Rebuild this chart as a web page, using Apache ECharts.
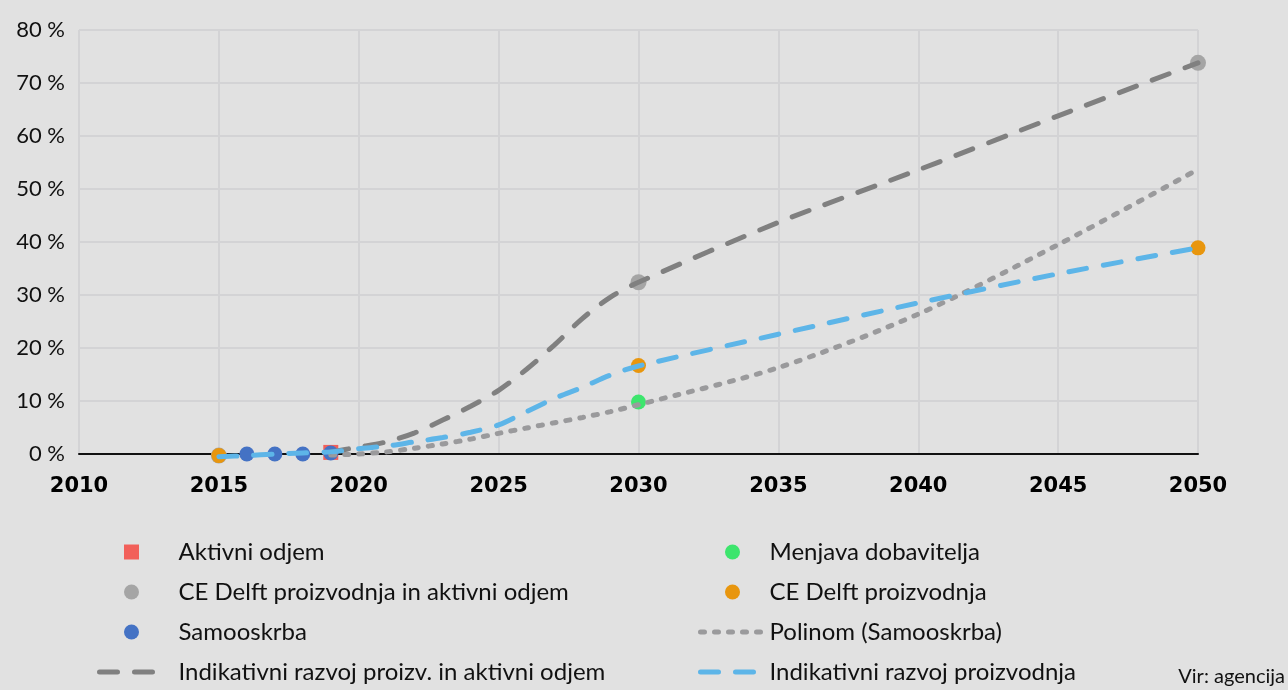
<!DOCTYPE html>
<html>
<head>
<meta charset="utf-8">
<script src="https://cdn.jsdelivr.net/npm/echarts@6/dist/echarts.min.js"></script>
<style>
  html, body { margin: 0; padding: 0; background: #e1e1e1; }
  #main { width: 1288px; height: 690px; }
</style>
</head>
<body>
<div id="main"></div>
<script>
// podatki odčitani z grafa (v %)
var aktivniOdjemLeta = [2019];
var aktivniOdjem = [0.3];

var menjavaLeta = [2030];
var menjava = [9.8];

var ceDelftOdjemLeta = [2015, 2030, 2050];
var ceDelftOdjem = [-0.3, 32.4, 73.8];

var ceDelftLeta = [2015, 2030, 2050];
var ceDelft = [-0.3, 16.7, 38.9];

var samooskrbaLeta = [2016, 2017, 2018, 2019];
var samooskrba = [0, 0, 0, 0.2];

var polinomLeta = [2019, 2020, 2021, 2022, 2023, 2024, 2025, 2026, 2027, 2028, 2029, 2030, 2035, 2040, 2045, 2050];
var polinom = [-0.2, 0, 0.4, 1.1, 1.9, 2.8, 3.9, 4.9, 5.9, 6.9, 8.0, 9.3, 16.3, 26.4, 39.5, 53.7];

var indikOdjemLeta = [2019, 2020, 2021, 2022, 2023, 2024, 2025, 2026, 2027, 2028, 2029, 2030, 2035, 2040, 2045, 2050];
var indikOdjem = [0.4, 1.3, 2.3, 4.0, 6.4, 9.0, 12.0, 16.0, 20.6, 25.6, 29.6, 32.4, 43.7, 53.6, 63.8, 73.8];

var indikProizvLeta = [2015, 2016, 2017, 2018, 2019, 2020, 2021, 2022, 2023, 2024, 2025, 2026, 2027, 2028, 2029, 2030, 2035, 2040, 2045, 2050];
var indikProizv = [-0.5, -0.3, 0, 0.2, 0.4, 1.0, 1.5, 2.3, 3.1, 4.1, 5.5, 8.0, 10.5, 12.6, 14.9, 16.6, 22.6, 28.5, 34.0, 38.9];

var zip = function(xs, ys) {
    return xs.map(function(x, i) { return [x, ys[i]]; });
};

var font = 'Lato';

var tocke = function(name, leta, vals, color, symbol, size) {
    return {
        name: name,
        type: 'scatter',
        symbol: symbol || 'circle',
        symbolSize: size || 15,
        clip: false,
        itemStyle: { color: color, opacity: 1 },
        data: zip(leta, vals)
    };
};

var crta = function(name, leta, vals, color, dash) {
    return {
        name: name,
        type: 'line',
        smooth: 0.3,
        symbol: 'none',
        clip: false,
        z: 3,
        itemStyle: { color: color },
        lineStyle: { color: color, width: 5, type: dash, cap: 'round' },
        data: zip(leta, vals)
    };
};

// legenda za črte brez simbola v sredini
var brezSimbola = function(name) {
    return { name: name, itemStyle: { opacity: 0 } };
};

var legendText = { fontFamily: font, fontSize: 24, color: '#111' };
var legendLine = { width: 5, cap: 'round' };

var option = {
    backgroundColor: '#e1e1e1',
    animation: false,
    grid: { left: 79, right: 90, top: 30, bottom: 236 },
    xAxis: {
        type: 'value',
        min: 2010,
        max: 2050,
        interval: 5,
        axisLine: { onZero: true, lineStyle: { color: '#111', width: 2 } },
        axisTick: { show: false },
        splitLine: { show: true, lineStyle: { color: '#d3d3d5', width: 2 } },
        axisLabel: {
            margin: 22,
            color: '#000',
            fontFamily: 'DejaVu Sans',
            fontWeight: 'bold',
            fontSize: 21,
            formatter: function(v) { return String(v); }
        }
    },
    yAxis: {
        type: 'value',
        min: 0,
        max: 80,
        interval: 10,
        axisLine: { show: false },
        axisTick: { show: false },
        splitLine: { lineStyle: { color: '#d3d3d5', width: 2 } },
        axisLabel: {
            margin: 14,
            color: '#111',
            fontFamily: font,
            fontSize: 22,
            formatter: '{value} %'
        }
    },
    legend: [{
        orient: 'vertical',
        left: 92,
        top: 535,
        itemWidth: 64,
        itemHeight: 15,
        itemGap: 16,
        lineStyle: legendLine,
        textStyle: Object.assign({ padding: [0, 0, 0, 10] }, legendText),
        data: [
            { name: 'Aktivni odjem', icon: 'path://M0,0H10V10H0Z' },
            'CE Delft proizvodnja in aktivni odjem',
            'Samooskrba',
            brezSimbola('Indikativni razvoj proizv. in aktivni odjem')
        ]
    }, {
        orient: 'vertical',
        left: 693,
        top: 535,
        itemWidth: 64,
        itemHeight: 15,
        itemGap: 16,
        lineStyle: legendLine,
        textStyle: legendText,
        data: [
            'Menjava dobavitelja',
            'CE Delft proizvodnja',
            brezSimbola('Polinom (Samooskrba)'),
            brezSimbola('Indikativni razvoj proizvodnja')
        ]
    }],
    graphic: [{
        type: 'text',
        right: 3,
        top: 667,
        style: { text: 'Vir: agencija', fontFamily: font, fontSize: 20, fill: '#111' }
    }],
    series: [
        tocke('CE Delft proizvodnja in aktivni odjem', ceDelftOdjemLeta, ceDelftOdjem, '#a5a5a5', 'circle', 16),
        tocke('CE Delft proizvodnja', ceDelftLeta, ceDelft, '#e8960e'),
        tocke('Menjava dobavitelja', menjavaLeta, menjava, '#3de56d'),
        tocke('Aktivni odjem', aktivniOdjemLeta, aktivniOdjem, '#f2605a', 'rect', 15),
        tocke('Samooskrba', samooskrbaLeta, samooskrba, '#4472c4'),
        crta('Polinom (Samooskrba)', polinomLeta, polinom, '#9a9a9c', [4, 10]),
        crta('Indikativni razvoj proizv. in aktivni odjem', indikOdjemLeta, indikOdjem, '#808080', [18, 17]),
        crta('Indikativni razvoj proizvodnja', indikProizvLeta, indikProizv, '#5db5e8', [18, 17])
    ]
};

var myChart = echarts.init(document.getElementById('main'));
myChart.setOption(option);
</script>
</body>
</html>
